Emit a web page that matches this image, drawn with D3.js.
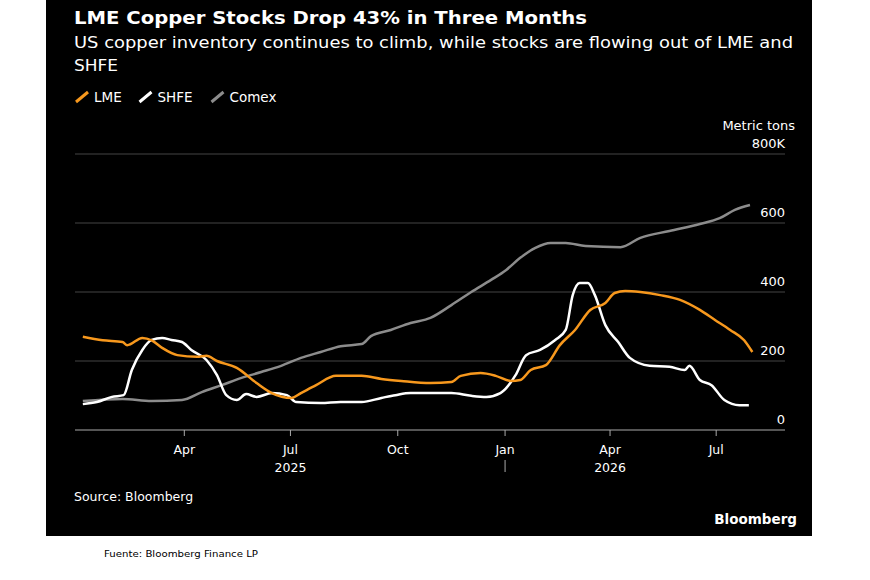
<!DOCTYPE html><html><head><meta charset="utf-8">
<script src="https://cdn.jsdelivr.net/npm/d3@7"></script>
<style>body{margin:0;background:#fff;font-family:"DejaVu Sans",sans-serif}</style></head><body>
<svg id="c" width="870" height="580"></svg>
<script>
// days since 2025-01-01
const lmeDays=[3,20,37,41,54,62,71,84,101,109,118,135,152,165,182,190,203,220,242,259,276,301,319,327,344,357,370,378,387,400,412,425,438,451,459,468,481,498,515,532,545,558,570,577];
const lmeVals=[270,260,255,246,267,260,238,217,212,215,200,180,136,107,93,107,130,157,157,148,142,136,139,157,165,157,142,145,174,188,246,290,348,368,397,403,400,391,377,348,319,290,260,226];
const shfeDays=[3,15,28,38,45,54,62,71,79,88,96,109,118,126,135,143,152,165,178,186,207,224,242,259,271,284,301,319,336,349,361,374,383,395,408,417,423,429,436,442,451,462,472,489,506,519,523,532,542,553,566,574];
const shfeVals=[75,81,96,101,174,232,261,267,261,255,232,203,159,101,87,104,96,107,101,81,78,81,81,93,101,107,107,107,99,96,107,159,217,232,261,290,391,426,426,391,304,255,209,186,183,174,186,145,130,87,72,72];
const comexDays=[3,37,62,88,105,122,139,156,173,190,207,224,242,250,267,284,301,319,336,353,366,378,391,404,417,434,464,481,506,532,549,562,575];
const comexVals=[84,90,84,87,110,130,151,168,186,209,226,243,249,272,290,310,325,362,400,435,464,499,528,542,542,533,530,557,577,597,614,638,652];
const yTicks=[0,200,400,600,800];
const monthTicks=["2025-04-01","2025-07-01","2025-10-01","2026-01-01","2026-04-01","2026-07-01"];
const monthLabels=["Apr","Jul","Oct","Jan","Apr","Jul"];
const years=[["2025","2025-07-01"],["2026","2026-04-01"]];

const svg=d3.select("#c");
svg.append("rect").attr("x",46).attr("y",0).attr("width",766).attr("height",536).attr("fill","#000");
const base=new Date(2025,0,1);
const dt=d=>d3.timeDay.offset(base,d);
const x=d3.scaleTime().domain([new Date(2024,11,30),new Date(2026,7,11)]).range([77,764]);
const y=d3.scaleLinear().domain([0,800]).range([430,154]);
const t=(tx,xx,yy,s,o={})=>{const e=svg.append("text").attr("x",xx).attr("y",yy).text(tx).attr("fill",o.fill||"#fff").attr("font-size",s).attr("font-weight",o.w||"normal").attr("text-anchor",o.a||"start");if(o.L)e.attr("textLength",o.L).attr("lengthAdjust","spacingAndGlyphs");return e;};
t("LME Copper Stocks Drop 43% in Three Months",74,24,18.5,{w:"bold",L:513});
t("US copper inventory continues to climb, while stocks are flowing out of LME and",74,48,16,{L:719});
t("SHFE",74,71,16,{L:44});
const leg=[["LME","#f7981d"],["SHFE","#fff"],["Comex","#8c8c8c"]];let lx=76;
leg.forEach(([n,c])=>{svg.append("line").attr("x1",lx).attr("x2",lx+12).attr("y1",102).attr("y2",92).attr("stroke",c).attr("stroke-width",3);t(n,lx+18,102,13.5);lx+=n.length*8.5+38;});
t("Metric tons",795,130,13,{a:"end"});
yTicks.forEach(v=>{svg.append("line").attr("x1",75).attr("x2",785).attr("y1",y(v)).attr("y2",y(v)).attr("stroke",v?"#444":"#aaa").attr("stroke-width",1);
 t(v==800?"800K":v,785,y(v)-6,13,{a:"end"});});
monthTicks.forEach((m,i)=>{const xx=x(new Date(m));svg.append("line").attr("x1",xx).attr("x2",xx).attr("y1",430).attr("y2",436).attr("stroke","#aaa");t(monthLabels[i],xx,454,12.5,{a:"middle"});});
svg.append("line").attr("x1",x(new Date("2026-01-01"))).attr("x2",x(new Date("2026-01-01"))).attr("y1",460).attr("y2",472).attr("stroke","#aaa");
years.forEach(([yr,m])=>t(yr,x(new Date(m)),472,12.5,{a:"middle"}));
const line=d3.line().x(d=>x(dt(d[0]))).y(d=>y(d[1])).curve(d3.curveMonotoneX);
[[comexDays,comexVals,"#8c8c8c"],[shfeDays,shfeVals,"#fff"],[lmeDays,lmeVals,"#f7981d"]].forEach(([ds,vs,c])=>
 svg.append("path").attr("d",line(d3.zip(ds,vs))).attr("fill","none").attr("stroke",c).attr("stroke-width",2.5));
t("Source: Bloomberg",74,501,12.5);
t("Bloomberg",797,524,13.5,{w:"bold",a:"end"});
t("Fuente: Bloomberg Finance LP",104,557,9,{fill:"#000",L:154});
</script></body></html>
